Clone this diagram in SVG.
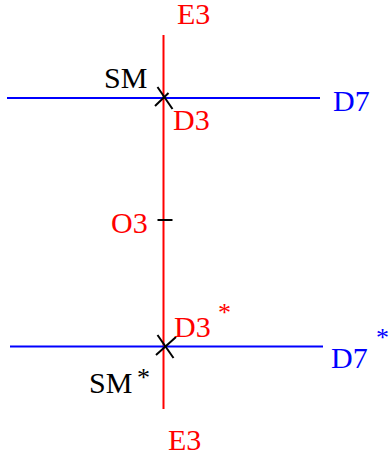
<svg xmlns="http://www.w3.org/2000/svg" width="390" height="457" viewBox="0 0 390 457">
<style>
.t{font-family:'Liberation Serif', 'Times New Roman', Times, serif;font-size:30px}
.r{fill:#ff0000}.b{fill:#0000ff}.k{fill:#000}
.ast{font-size:26px}
.lr{stroke:#ff0000;stroke-width:2;fill:none}
.lb{stroke:#0000ff;stroke-width:2;fill:none}
.lk{stroke:#000;stroke-width:2;fill:none}
</style>
<rect width="390" height="457" fill="#fff"/>
<g id="connectors">
<line class="lr" x1="163.5" y1="35" x2="163.5" y2="409"/>
<line class="lb" x1="7" y1="98" x2="320" y2="98"/>
<line class="lb" x1="10" y1="346.5" x2="323" y2="346.5"/>
<line class="lk" x1="157.5" y1="220" x2="172.5" y2="220"/>
</g>
<g font-family="Liberation Serif, serif" font-size="30">
<g id="SM">
<line class="lk" x1="157.5" y1="87" x2="172.5" y2="109"/>
<line class="lk" x1="155" y1="106" x2="168.5" y2="93"/>
<text class="t k" x="104" y="88">SM</text>
</g>
<g id="SMstar">
<line class="lk" x1="157.5" y1="335" x2="173.5" y2="358"/>
<line class="lk" x1="156" y1="355" x2="176" y2="337"/>
<text class="t k" x="89" y="393">SM</text>
<text class="t k ast" x="137" y="386">*</text>
</g>
<g id="E3top"><text class="t r" x="177" y="24">E3</text></g>
<g id="E3bot"><text class="t r" x="168" y="450">E3</text></g>
<g id="D3"><text class="t r" x="173" y="130">D3</text></g>
<g id="D3star"><text class="t r" x="174" y="337">D3</text><text class="t r ast" x="218" y="321">*</text></g>
<g id="O3"><text class="t r" x="111" y="233">O3</text></g>
<g id="D7"><text class="t b" x="333" y="111">D7</text></g>
<g id="D7star"><text class="t b" x="331" y="368">D7</text><text class="t b ast" x="376" y="346">*</text></g>
</g>
</svg>
